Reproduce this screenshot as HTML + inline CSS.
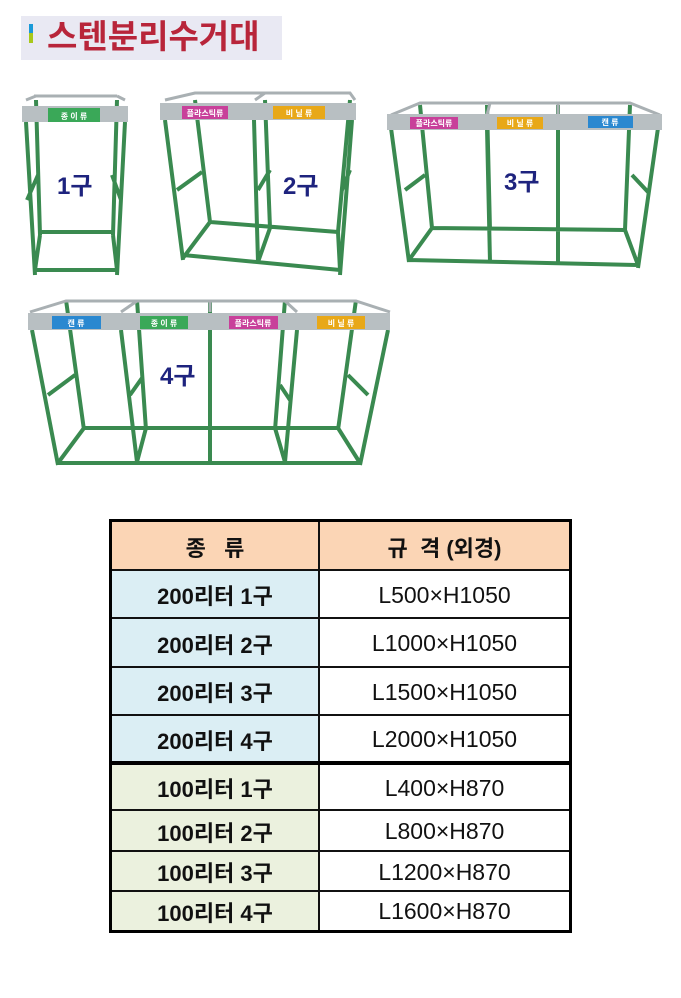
<!DOCTYPE html>
<html><head><meta charset="utf-8"><style>
body{margin:0;width:681px;height:998px;background:#fff;position:relative;overflow:hidden;font-family:"Liberation Sans","Noto Sans CJK KR",sans-serif}
.title{position:absolute;left:21px;top:16px;width:261px;height:44px;background:#e9e9f3}
.title .b1{position:absolute;left:8px;top:8px;width:4px;height:9px;background:#1a9ad8}
.title .b2{position:absolute;left:8px;top:17px;width:4px;height:10px;background:#a8c81a}
.title span{position:absolute;left:26px;top:2px;font-size:33px;font-weight:bold;color:#b8253a;line-height:38px}
table{position:absolute;left:109px;top:519px;width:463px;border-collapse:collapse;border:3px solid #000}
td{border:2px solid #111;text-align:center;padding:2px 0 0 0;font-size:23px;color:#111}
td.k{font-weight:bold;width:206px;font-size:22px}
.h td{background:#fbd5b5;font-weight:bold;height:45px;font-size:22px}
.a td.k{background:#dbeef4}
.c td.k{background:#ebf1de}
.thick td{border-top:4px solid #000}
</style></head><body>
<div class="title"><div class="b1"></div><div class="b2"></div><span>스텐분리수거대</span></div>
<svg width="681" height="480" style="position:absolute;left:0;top:0" font-family="Liberation Sans, Noto Sans CJK KR, sans-serif">
<g stroke="#3a8a50" stroke-width="4" fill="none">
<path d="M36 100 L40 235 M117 100 L113 235 M26 122 L35 275 M125 122 L117 275 M35 270 L117 270 M40 232 L113 232 M35 270 L40 235 M117 270 L113 235 M27 200 L38 175 M121 200 L112 175"/>
<path d="M195 100 L210 222 M265 100 L270 228 M350 100 L338 232 M165 120 L183 260 M254 120 L258 262 M352 120 L340 275 M183 255 L340 270 M210 222 L338 232 M183 258 L210 222 M258 262 L270 228 M340 270 L338 232 M177 190 L202 172 M258 190 L270 170 M342 190 L350 170"/>
<path d="M420 105 L432 228 M487 105 L490 230 M558 105 L558 230 M630 105 L625 230 M391 128 L409 262 M487 128 L490 262 M558 128 L558 262 M658 128 L638 268 M409 260 L638 265 M432 228 L625 230 M409 260 L432 228 M638 265 L625 230 M405 190 L425 175 M632 175 L648 192"/>
<path d="M66 300 L84 430 M137 300 L146 430 M210 300 L210 430 M285 300 L275 430 M356 300 L338 430 M32 330 L58 465 M121 330 L137 462 M210 330 L210 462 M297 330 L285 462 M388 330 L360 465 M58 463 L360 463 M84 428 L338 428 M58 463 L84 428 M137 462 L146 428 M285 462 L275 428 M360 463 L338 428 M48 395 L75 375 M130 395 L142 378 M280 385 L290 400 M348 375 L368 395"/>
</g>
<g stroke="#a9b0b3" stroke-width="3" fill="none">
<path d="M34 96 L117 96 M26 100 L36 96 M125 100 L117 96"/>
<path d="M165 100 L195 93 L350 93 L355 100 M255 100 L265 93"/>
<path d="M391 115 L420 103 L630 103 L660 115 M487 115 L490 103 M558 115 L558 103"/>
<path d="M30 312 L66 301 L356 301 L390 312 M121 312 L137 301 M210 312 L210 301 M297 312 L285 301"/>
</g>
<g fill="#b8bfc2">
<rect x="22" y="106" width="106" height="16"/>
<rect x="160" y="103" width="196" height="17"/>
<rect x="387" y="114" width="275" height="16"/>
<rect x="28" y="313" width="362" height="17"/>
</g>
<g font-size="8" font-weight="bold" fill="#fff" text-anchor="middle">
<rect x="48" y="108" width="52" height="14" fill="#3aa858"/><text x="74" y="119">종 이 류</text>
<rect x="182" y="106" width="46" height="13" fill="#c8409a"/><text x="205" y="116">플라스틱류</text>
<rect x="273" y="106" width="52" height="13" fill="#e8a818"/><text x="299" y="116">비 닐 류</text>
<rect x="410" y="117" width="48" height="12" fill="#c8409a"/><text x="434" y="126">플라스틱류</text>
<rect x="497" y="117" width="46" height="12" fill="#e8a818"/><text x="520" y="126">비 닐 류</text>
<rect x="588" y="116" width="45" height="12" fill="#2a88d0"/><text x="610" y="125">캔 류</text>
<rect x="52" y="316" width="49" height="13" fill="#2a88d0"/><text x="76" y="326">캔   류</text>
<rect x="140" y="316" width="48" height="13" fill="#3aa858"/><text x="164" y="326">종 이 류</text>
<rect x="229" y="316" width="49" height="13" fill="#c8409a"/><text x="253" y="326">플라스틱류</text>
<rect x="317" y="316" width="48" height="13" fill="#e8a818"/><text x="341" y="326">비 닐 류</text>
</g>
<g font-size="24" font-weight="bold" fill="#1e237e">
<text x="57" y="194">1구</text>
<text x="283" y="194">2구</text>
<text x="504" y="190">3구</text>
<text x="160" y="384">4구</text>
</g>
</svg>
<table>
<tr class="h"><td class="k">종 &nbsp; 류</td><td>규 &nbsp;격 (외경)</td></tr>
<tr class="a" style="height:48px"><td class="k">200리터 1구</td><td>L500×H1050</td></tr>
<tr class="a" style="height:49px"><td class="k">200리터 2구</td><td>L1000×H1050</td></tr>
<tr class="a" style="height:48px"><td class="k">200리터 3구</td><td>L1500×H1050</td></tr>
<tr class="a" style="height:48px"><td class="k">200리터 4구</td><td>L2000×H1050</td></tr>
<tr class="c thick" style="height:47px"><td class="k">100리터 1구</td><td>L400×H870</td></tr>
<tr class="c" style="height:41px"><td class="k">100리터 2구</td><td>L800×H870</td></tr>
<tr class="c" style="height:40px"><td class="k">100리터 3구</td><td>L1200×H870</td></tr>
<tr class="c" style="height:40px"><td class="k">100리터 4구</td><td>L1600×H870</td></tr>
</table>
</body></html>
